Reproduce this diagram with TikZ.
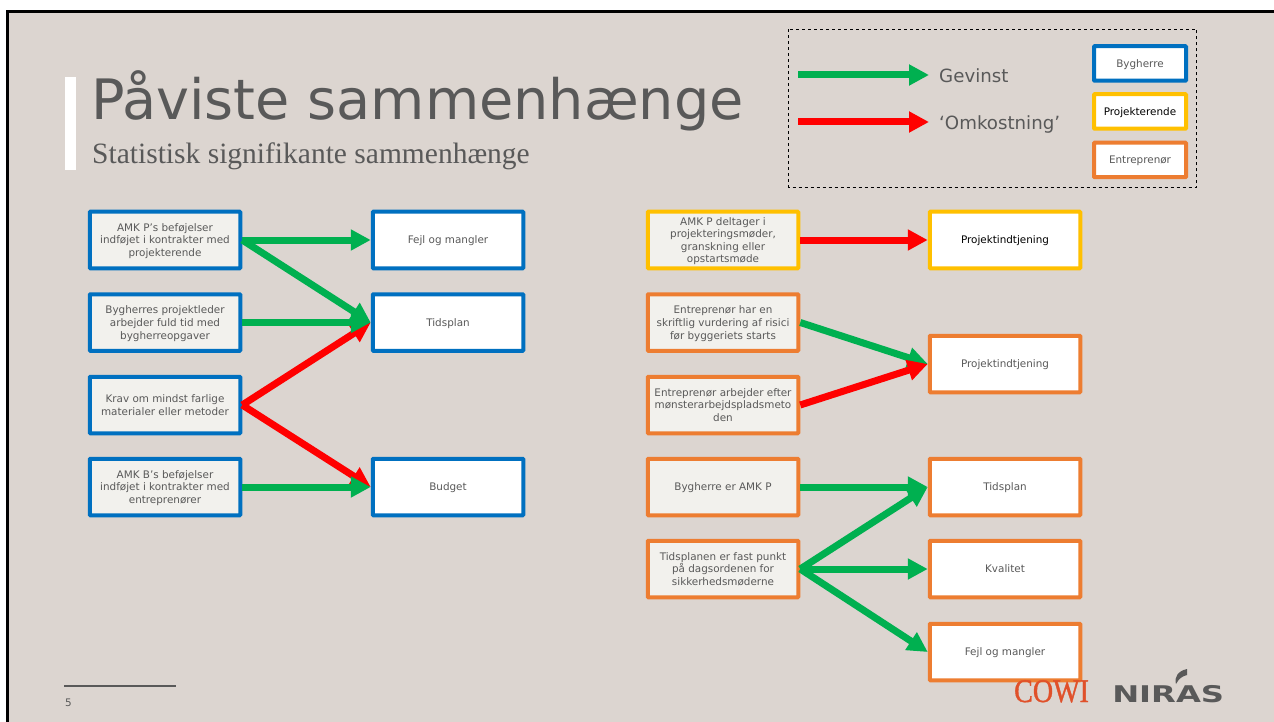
\documentclass[tikz,border=0pt]{standalone}
\usepackage{fontspec}
\setmainfont{DejaVu Sans}
\newfontfamily\subfont{Liberation Serif}
\newfontfamily\cowifont[FakeBold=1.2]{Liberation Serif}
\usetikzlibrary{calc}
\usetikzlibrary{arrows.meta}
\definecolor{slide}{HTML}{DCD5D0}
\definecolor{paper}{HTML}{F2F1ED}
\definecolor{ink}{HTML}{595959}
\definecolor{bygblue}{HTML}{0070C0}
\definecolor{projyellow}{HTML}{FFC000}
\definecolor{entorange}{HTML}{ED7D31}
\definecolor{gevgreen}{HTML}{00B050}
\definecolor{cowired}{HTML}{E0502A}
\tikzset{
  box/.style={draw,line width=4pt,rounded corners=.8pt,minimum width=150.5pt,minimum height=56.5pt,
    inner sep=0pt,align=center,text=ink,text depth=0pt,font=\fontsize{10.4}{12.6}\selectfont},
  cause/.style={box,fill=paper},
  effect/.style={box,fill=white},
  keybox/.style={box,fill=white,minimum width=92pt,minimum height=34.5pt},
  gain/.style={gevgreen,line width=7pt,-{Triangle[length=20pt,width=20pt]}},
  cost/.style={red,line width=7pt,-{Triangle[length=20pt,width=20pt]}}
}
\begin{document}
\begin{tikzpicture}[x=1pt,y=-1pt]
\useasboundingbox (0,0) rectangle (1274,722);
\fill[white] (0,0) rectangle (1274,722);
\fill[slide] (7,11) rectangle (1274,722);
\draw[black,line width=3pt] (7.5,722) -- (7.5,11.5) -- (1274,11.5);

% title
\fill[white] (65,77) rectangle (76,170);
\node[anchor=base west,inner sep=0pt,text=ink,font=\fontsize{55.7}{60}\selectfont] (title) at (91,120) {Påviste sammenhænge};
\node[anchor=base west,inner sep=0pt,text=ink,font=\subfont\fontsize{29.5}{32}\selectfont] (subtitle) at (92,164) {Statistisk signifikante sammenhænge};

% legend
\draw[black,dashed,line width=.8pt] (788.5,29.5) rectangle (1196.5,187.5);
\coordinate (gevA) at (798,75);
\coordinate (gevB) at (929,75);
\coordinate (omkA) at (798,122);
\coordinate (omkB) at (929,122);
\draw[gain] (gevA)--(gevB);
\draw[cost] (omkA)--(omkB);
\node[anchor=base west,inner sep=0pt,text=ink,font=\fontsize{18.2}{20}\selectfont] (gevinst) at (939,82.5) {Gevinst};
\node[anchor=base west,inner sep=0pt,text=ink,font=\fontsize{18.2}{20}\selectfont] (omk) at (939,129.5) {‘Omkostning’};
\node[keybox,draw=bygblue] (keyB) at (1140,63.5) {Bygherre};
\node[keybox,draw=projyellow,text=black] (keyP) at (1140,111.5) {Projekterende};
\node[keybox,draw=entorange] (keyE) at (1140,160) {Entreprenør};

% left block
\node[cause,draw=bygblue] (befP) at (165,240) {AMK P’s beføjelser\\indføjet i kontrakter med\\projekterende};
\node[cause,draw=bygblue] (leder) at (165,322.5) {Bygherres projektleder\\arbejder fuld tid med\\bygherreopgaver};
\node[cause,draw=bygblue] (krav) at (165,405) {Krav om mindst farlige\\materialer eller metoder};
\node[cause,draw=bygblue] (befB) at (165,487) {AMK B’s beføjelser\\indføjet i kontrakter med\\entreprenører};
\node[effect,draw=bygblue] (fejlL) at (448,240) {Fejl og mangler};
\node[effect,draw=bygblue] (tidL) at (448,322.5) {Tidsplan};
\node[effect,draw=bygblue] (budget) at (448,487) {Budget};
\draw[cost] (krav.east)--(tidL.west);
\draw[cost] (krav.east)--(budget.west);
\draw[gain] (befP.east)--(fejlL.west);
\draw[gain] (befP.east)--(tidL.west);
\draw[gain] (leder.east)--(tidL.west);
\draw[gain] (befB.east)--(budget.west);

% right block
\node[cause,draw=projyellow] (deltager) at (723,240) {AMK P deltager i\\projekteringsmøder,\\granskning eller\\opstartsmøde};
\node[cause,draw=entorange] (risici) at (723,322.5) {Entreprenør har en\\skriftlig vurdering af risici\\før byggeriets starts};
\node[cause,draw=entorange] (moenster) at (723,405) {Entreprenør arbejder efter\\mønsterarbejdspladsmeto\\den};
\node[cause,draw=entorange] (amkP) at (723,487) {Bygherre er AMK P};
\node[cause,draw=entorange] (fast) at (723,569) {Tidsplanen er fast punkt\\på dagsordenen for\\sikkerhedsmøderne};
\node[effect,draw=projyellow,text=black] (indtA) at (1005,240) {Projektindtjening};
\node[effect,draw=entorange] (indtB) at (1005,364) {Projektindtjening};
\node[effect,draw=entorange] (tidR) at (1005,487) {Tidsplan};
\node[effect,draw=entorange] (kval) at (1005,569) {Kvalitet};
\node[effect,draw=entorange] (fejlR) at (1005,652) {Fejl og mangler};
\draw[cost] (deltager.east)--(indtA.west);
\draw[gain] (risici.east)--(indtB.west);
\draw[cost] (moenster.east)--(indtB.west);
\draw[gain] (amkP.east)--(tidR.west);
\draw[gain] (fast.east)--(tidR.west);
\draw[gain] (fast.east)--(kval.west);
\draw[gain] (fast.east)--(fejlR.west);

% footer
\draw[ink,line width=1.2pt] (64,686) -- (176,686);
\node[anchor=base west,inner sep=0pt,text=ink,font=\fontsize{10.4}{12}\selectfont] (page) at (65,706) {5};
\node[anchor=base west,inner sep=0pt,text=cowired,transform shape,xscale=.85,font=\cowifont\fontsize{33}{36}\selectfont] (cowi) at (1014,702) {COWI};
\node[anchor=base west,inner sep=0pt,text=ink,transform shape,xscale=1.4,font=\bfseries\fontsize{23}{26}\selectfont] (niras) at (1112,702) {NIRAS};
\fill[ink] (1187,669) .. controls (1178,671) and (1174,677) .. (1176,684) .. controls (1179,678) and (1183,676) .. (1187,675) -- cycle;
\end{tikzpicture}
\end{document}
